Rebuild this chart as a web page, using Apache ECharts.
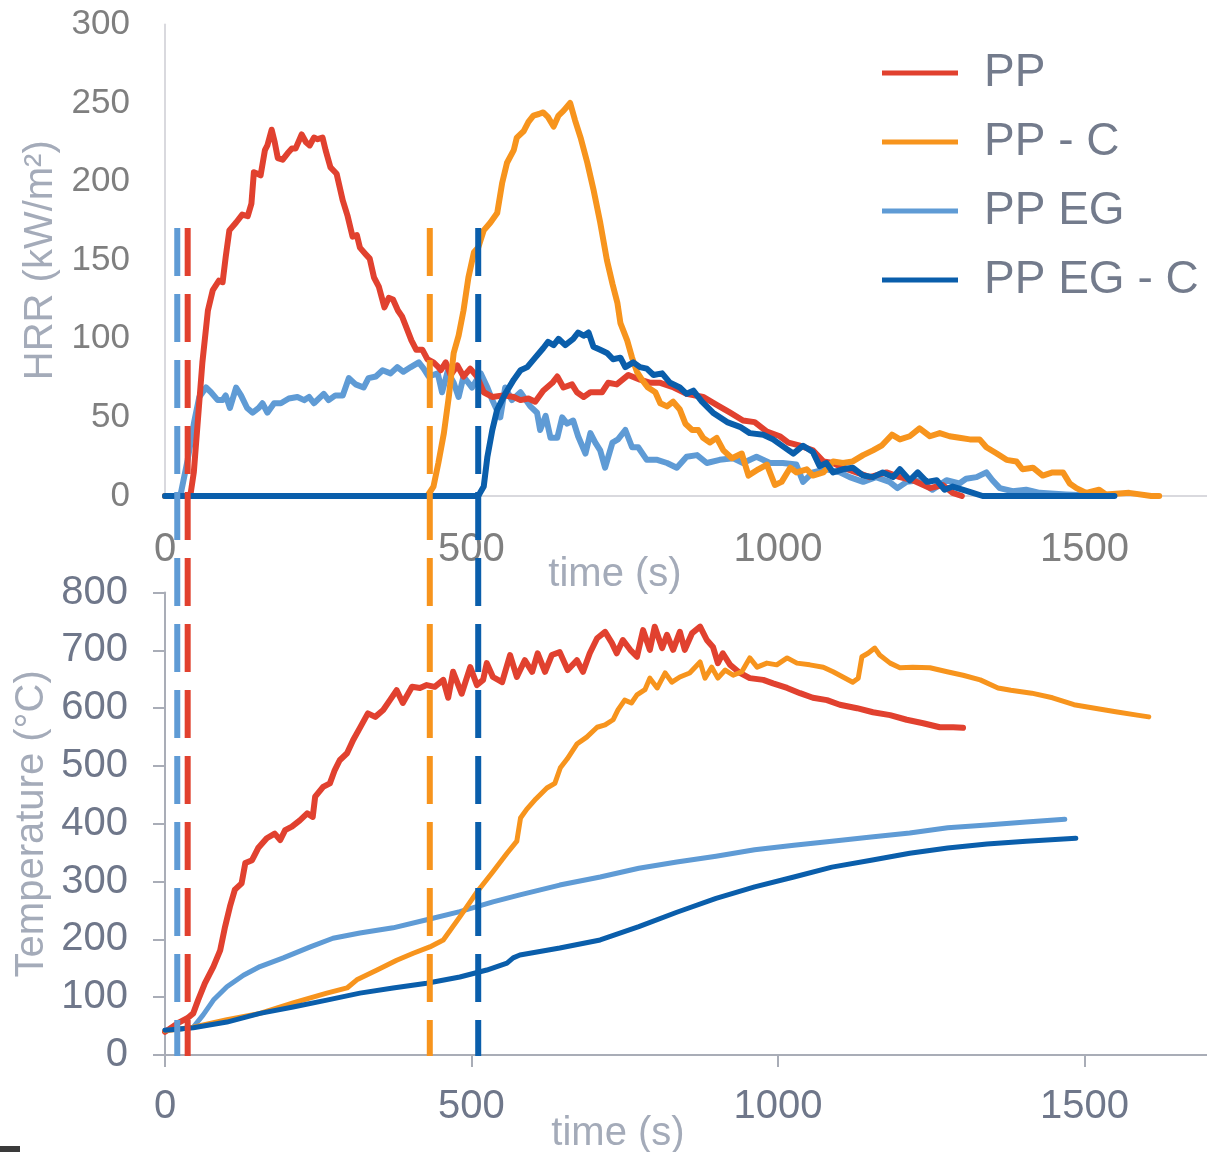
<!DOCTYPE html>
<html>
<head>
<meta charset="utf-8">
<script src="https://cdn.jsdelivr.net/npm/echarts@6/dist/echarts.min.js"></script>
<style>
  html, body { margin: 0; padding: 0; background: #fff; }
  #chart { width: 1207px; height: 1152px; }
</style>
</head>
<body>
<div id="chart"></div>
<script>
// legend / series names
const seriesNames = ["PP", "PP - C", "PP EG", "PP EG - C"];
const xTicks = [0, 500, 1000, 1500];

// HRR (kW/m²) vs time (s)
const hrrPP = [[0,0],[38,0],[42,2],[47,15],[55,55],[61,85],[70,118],[78,131],[88,137],[94,136],[99,152],[105,169],[116,174],[126,179],[135,178],[141,186],[145,206],[151,205],[156,204],[163,220],[167,223],[174,233],[179,225],[184,215],[192,214],[200,218],[207,221],[213,221],[223,230],[230,225],[236,223],[243,228],[249,227],[257,228],[262,220],[270,209],[280,205],[290,188],[298,178],[306,165],[313,166],[318,158],[327,154],[334,151],[341,139],[349,133],[358,120],[365,126],[372,125],[380,118],[387,114],[395,106],[402,99],[410,93],[420,93],[428,87],[438,85],[446,82],[450,80],[458,85],[466,77],[477,83],[487,76],[498,81],[509,76],[520,66],[534,63],[552,64],[569,63],[580,61],[593,62],[604,60],[617,67],[632,72],[640,76],[650,69],[664,71],[672,66],[683,63],[694,66],[713,66],[723,72],[737,71],[756,77],[775,74],[792,72],[808,72],[830,69],[851,65],[878,63],[900,58],[922,53],[943,48],[962,47],[982,41],[1003,38],[1017,34],[1036,32],[1057,29],[1074,22],[1090,21],[1106,18],[1128,15],[1150,12],[1177,15],[1199,12],[1220,10],[1248,5],[1269,7],[1285,2],[1300,0]];
const hrrPPC = [[0,0],[428,0],[438,6],[446,21],[455,40],[463,63],[471,91],[479,102],[487,118],[495,139],[504,155],[511,158],[520,169],[531,174],[542,180],[550,199],[558,212],[569,220],[574,228],[585,232],[593,238],[601,242],[610,243],[617,244],[625,241],[634,235],[642,242],[650,245],[661,250],[669,239],[678,228],[689,212],[699,195],[710,174],[721,150],[730,135],[738,123],[743,110],[754,99],[762,88],[770,79],[778,74],[788,69],[800,66],[808,59],[819,57],[829,60],[840,55],[849,46],[860,42],[870,42],[878,37],[889,34],[900,37],[911,29],[925,24],[941,27],[952,13],[968,17],[982,20],[995,7],[1006,9],[1020,18],[1030,15],[1047,17],[1057,13],[1074,15],[1090,22],[1106,21],[1122,22],[1139,26],[1155,29],[1169,32],[1186,39],[1199,36],[1215,38],[1231,43],[1248,38],[1264,40],[1280,38],[1296,37],[1313,36],[1329,36],[1340,31],[1357,27],[1373,23],[1389,22],[1399,17],[1416,18],[1432,13],[1448,15],[1465,15],[1476,8],[1487,5],[1503,2],[1524,4],[1535,1],[1573,2],[1609,0],[1622,0]];
const hrrPPEG = [[0,0],[22,0],[26,2],[37,23],[48,48],[56,63],[67,69],[75,66],[86,61],[94,61],[99,64],[106,56],[116,69],[124,64],[134,56],[143,53],[153,56],[159,59],[167,53],[178,59],[189,59],[202,62],[216,63],[227,61],[235,63],[243,59],[259,65],[267,61],[278,64],[290,64],[300,75],[311,71],[324,69],[332,75],[344,76],[355,80],[368,78],[379,82],[389,79],[401,82],[414,85],[422,81],[430,76],[445,78],[452,66],[461,79],[471,72],[479,63],[487,76],[501,69],[515,78],[526,69],[534,61],[547,50],[555,69],[566,61],[580,66],[596,57],[607,53],[612,42],[621,51],[629,37],[640,37],[648,50],[656,46],[666,48],[674,38],[686,27],[694,40],[702,34],[710,29],[718,18],[730,34],[739,36],[751,42],[762,31],[772,31],[786,23],[803,23],[819,21],[835,18],[851,25],[868,26],[884,21],[905,23],[927,24],[943,21],[965,25],[987,21],[1008,21],[1030,20],[1041,9],[1057,15],[1079,17],[1101,15],[1117,12],[1139,9],[1160,12],[1182,9],[1195,5],[1210,9],[1231,10],[1252,4],[1275,10],[1296,8],[1307,11],[1324,12],[1340,15],[1350,10],[1362,5],[1383,3],[1405,4],[1427,2],[1470,1],[1530,0]];
const hrrPPEGC = [[0,0],[511,0],[520,6],[526,25],[534,42],[542,55],[555,65],[569,74],[580,80],[591,82],[604,88],[617,94],[625,98],[634,96],[642,100],[653,96],[666,100],[674,104],[683,102],[691,104],[699,95],[710,93],[721,91],[731,87],[743,88],[751,82],[764,85],[775,82],[786,81],[797,77],[811,78],[824,72],[840,69],[851,65],[862,67],[876,60],[894,53],[917,47],[938,44],[954,40],[976,39],[992,36],[1014,30],[1025,27],[1041,32],[1057,28],[1068,19],[1079,21],[1090,15],[1106,17],[1122,18],[1139,13],[1155,12],[1171,15],[1188,12],[1199,17],[1215,10],[1228,15],[1243,9],[1259,10],[1272,4],[1285,6],[1301,4],[1318,2],[1334,0],[1549,0]];

// Temperature (°C) vs time (s)
const tempPP = [[0,40],[24,57],[37,64],[46,72],[54,95],[65,124],[79,153],[90,181],[98,222],[106,257],[114,286],[125,297],[131,332],[142,337],[152,358],[166,375],[179,383],[188,372],[196,389],[207,395],[220,406],[232,418],[241,412],[245,447],[258,464],[269,470],[277,493],[285,510],[297,522],[307,545],[318,566],[331,591],[343,585],[356,597],[367,614],[378,631],[388,609],[403,637],[416,635],[427,640],[440,637],[454,649],[462,618],[470,663],[484,625],[498,671],[509,640],[519,649],[525,678],[535,654],[550,645],[563,692],[574,654],[587,683],[599,663],[608,695],[620,663],[631,692],[644,697],[657,666],[672,683],[682,663],[693,695],[705,721],[718,732],[729,713],[737,695],[747,718],[759,701],[770,689],[780,735],[791,701],[799,741],[811,704],[819,727],[829,701],[840,732],[848,701],[860,730],[873,741],[884,718],[894,706],[902,678],[910,695],[922,675],[938,661],[954,652],[976,649],[992,643],[1015,635],[1036,626],[1057,618],[1080,614],[1101,606],[1129,600],[1155,593],[1183,588],[1210,580],[1237,574],[1264,567],[1286,567],[1302,566]];
const tempPPC = [[0,42],[46,48],[101,61],[155,72],[209,90],[264,107],[297,116],[313,130],[346,147],[378,164],[405,176],[432,187],[454,199],[481,239],[509,282],[535,317],[558,349],[574,370],[580,410],[590,425],[605,443],[623,462],[636,470],[645,497],[656,512],[672,538],[688,550],[705,567],[718,571],[731,580],[739,597],[750,614],[761,609],[770,623],[783,632],[791,652],[803,635],[816,661],[827,645],[840,654],[856,661],[873,680],[881,652],[892,671],[902,652],[914,666],[927,657],[941,663],[954,687],[966,671],[982,678],[998,675],[1015,687],[1031,678],[1052,675],[1074,671],[1090,663],[1106,654],[1122,645],[1131,652],[1137,689],[1147,695],[1158,704],[1166,692],[1183,678],[1199,670],[1220,671],[1248,670],[1276,663],[1302,657],[1330,649],[1359,635],[1380,631],[1414,626],[1448,618],[1483,606],[1517,600],[1551,594],[1586,588],[1605,585]];
const tempPPEG = [[0,43],[20,44],[46,48],[62,69],[79,95],[101,118],[128,138],[155,153],[193,168],[237,187],[274,202],[318,211],[372,220],[427,234],[481,248],[535,265],[579,277],[644,294],[710,308],[773,323],[835,334],[899,344],[962,355],[1026,363],[1088,370],[1152,377],[1215,384],[1277,393],[1341,398],[1405,403],[1468,408]];
const tempPPEGC = [[0,43],[46,47],[101,57],[155,72],[209,83],[264,95],[318,107],[372,116],[427,124],[481,135],[525,147],[558,159],[568,168],[579,173],[644,185],[710,199],[773,222],[835,247],[899,271],[962,291],[1026,308],[1088,325],[1152,337],[1215,349],[1277,358],[1341,365],[1405,370],[1486,375]];

// ignition times (s), same order as seriesNames
const ignitionTimes = [37, 432, 20, 511];

const colors = {
  "PP": "#e1412f",
  "PP - C": "#f7941d",
  "PP EG": "#5f9bd5",
  "PP EG - C": "#0a5eab"
};

const hrrData = { "PP": hrrPP, "PP - C": hrrPPC, "PP EG": hrrPPEG, "PP EG - C": hrrPPEGC };
const tempData = { "PP": tempPP, "PP - C": tempPPC, "PP EG": tempPPEG, "PP EG - C": tempPPEGC };
// drawing order, bottom to top
const drawOrder = ["PP EG", "PP", "PP - C", "PP EG - C"];

const FONT = "Liberation Sans, Arial, sans-serif";
const plainNum = (v) => String(v);

function xAxisFor(gridIndex, opts) {
  return Object.assign({
    type: "value",
    gridIndex: gridIndex,
    min: 0,
    max: 1700,
    interval: 500,
    splitLine: { show: false }
  }, opts);
}

const chart = echarts.init(document.getElementById("chart"));

const series = [];
drawOrder.forEach((name) => {
  series.push({
    name: name, type: "line", xAxisIndex: 0, yAxisIndex: 0,
    data: hrrData[name], showSymbol: false, symbol: "none",
    lineStyle: { color: colors[name], width: 6, join: "round", cap: "round" },
    itemStyle: { color: colors[name] }
  });
});
drawOrder.forEach((name) => {
  series.push({
    name: name, type: "line", xAxisIndex: 1, yAxisIndex: 1,
    data: tempData[name], showSymbol: false, symbol: "none",
    lineStyle: { color: colors[name], width: name === "PP" ? 6 : 5, join: "round", cap: "round" },
    itemStyle: { color: colors[name] }
  });
});
// dashed ignition markers spanning both panels
seriesNames.forEach((name, i) => {
  series.push({
    name: "ign " + name, type: "line", xAxisIndex: 2, yAxisIndex: 2,
    data: [[ignitionTimes[i], 1], [ignitionTimes[i], 0]],
    showSymbol: false, symbol: "none", z: 5,
    lineStyle: { color: colors[name], width: 6, type: [48, 18] }
  });
});

const option = {
  animation: false,
  backgroundColor: "#fff",
  textStyle: { fontFamily: FONT },
  grid: [
    { left: 165, right: 0, top: 24.4, height: 471.6, outerBoundsMode: "none" },
    { left: 165, right: 0, top: 592.6, height: 462.4, outerBoundsMode: "none" },
    { left: 165, right: 0, top: 228, height: 828, outerBoundsMode: "none" }
  ],
  legend: {
    data: seriesNames,
    orient: "vertical",
    left: 877,
    top: 45,
    icon: "rect",
    itemWidth: 76,
    itemHeight: 5,
    itemGap: 23,
    selectedMode: false,
    textStyle: { fontSize: 46, color: "#737b8c", fontFamily: FONT, lineHeight: 46, padding: [0, 0, 0, 21] }
  },
  xAxis: [
    xAxisFor(0, {
      name: "time (s)", nameLocation: "middle", nameGap: 59, nameMoveOverlap: false,
      nameTextStyle: { fontSize: 40, color: "#a4abb9", padding: [0, 142, 0, 0] },
      axisLine: { lineStyle: { color: "#d9d9de", width: 2 } },
      axisTick: { show: false },
      axisLabel: { customValues: xTicks, formatter: plainNum, fontSize: 40, color: "#7f7f7f", margin: 34 }
    }),
    xAxisFor(1, {
      name: "time (s)", nameLocation: "middle", nameGap: 59, nameMoveOverlap: false,
      nameTextStyle: { fontSize: 40, color: "#a4abb9", padding: [0, 136, 0, 0] },
      axisLine: { lineStyle: { color: "#a9adb7", width: 2 } },
      axisTick: { show: true, customValues: xTicks, length: 12, lineStyle: { color: "#a9adb7", width: 2 } },
      axisLabel: { customValues: xTicks, formatter: plainNum, fontSize: 40, color: "#6f778a", margin: 32 }
    }),
    xAxisFor(2, { show: false })
  ],
  yAxis: [
    {
      type: "value", gridIndex: 0, min: 0, max: 300, interval: 50,
      name: "HRR (kW/m²)", nameLocation: "middle", nameGap: 104, nameMoveOverlap: false,
      nameTextStyle: { fontSize: 40, color: "#a4abb9" },
      axisLine: { show: true, lineStyle: { color: "#d9d9de", width: 2 } },
      axisTick: { show: false },
      splitLine: { show: false },
      axisLabel: { fontSize: 35, color: "#7f7f7f", margin: 35 }
    },
    {
      type: "value", gridIndex: 1, min: 0, max: 800, interval: 100,
      name: "Temperature (°C)", nameLocation: "middle", nameGap: 113, nameMoveOverlap: false,
      nameTextStyle: { fontSize: 40, color: "#a4abb9" },
      axisLine: { show: true, lineStyle: { color: "#a9adb7", width: 2 } },
      axisTick: { show: true, length: 12, lineStyle: { color: "#a9adb7", width: 2 } },
      splitLine: { show: false },
      axisLabel: { fontSize: 40, color: "#6f778a", margin: 37 }
    },
    { type: "value", gridIndex: 2, min: 0, max: 1, show: false }
  ],
  graphic: [
    { type: "rect", left: 0, top: 1146, shape: { width: 20, height: 6 }, style: { fill: "#3a3a3a" } }
  ],
  series: series
};

chart.setOption(option);
</script>
</body>
</html>
